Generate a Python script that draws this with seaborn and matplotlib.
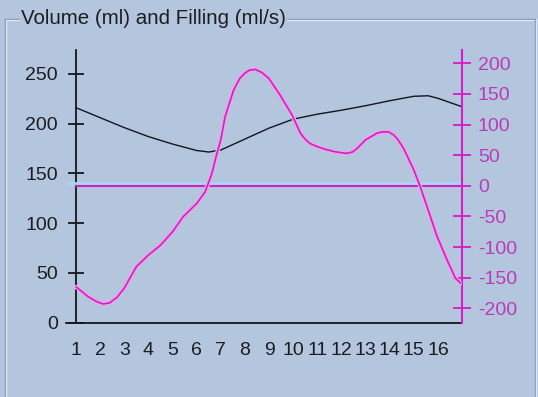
import matplotlib
matplotlib.use('Agg')
import matplotlib.pyplot as plt
import seaborn as sns
from matplotlib.lines import Line2D
from matplotlib.transforms import offset_copy

# ---- data ----
x_ticks = list(range(1, 17))
vol_x = [1, 2, 3, 4, 5, 6, 6.5, 7, 8, 9, 10, 11, 12, 13, 14, 15, 15.6, 16, 17]
volume = [216, 206, 196, 187, 179.5, 173, 171.5, 173.5, 184.5, 195.5, 204.5, 209.5, 213.5, 218, 223, 227.5, 228, 225.5, 217]

fill_x = [1.0, 1.5, 1.85, 2.13, 2.4, 2.7, 3.0, 3.5, 4.0, 4.5, 5.0, 5.45, 6.0, 6.35, 6.63, 6.84, 7.0,
          7.18, 7.53, 7.78, 8.0, 8.2, 8.43, 8.7, 9.0, 9.46, 9.95, 10.3, 10.5, 10.7, 11.0, 11.3,
          11.68, 12.0, 12.23, 12.45, 12.65, 13.0, 13.48, 13.7, 13.96, 14.17, 14.35,
          14.58, 15.0, 15.27, 15.55, 15.97, 16.38, 16.73, 16.95]
filling = [-165, -181, -189, -193, -191, -182, -167, -132, -113, -97, -75, -50, -29, -10, 20, 53, 75,
           113, 156, 175, 184, 189, 190, 185, 175, 148, 116, 86, 76, 69, 64, 60,
           56, 54, 53, 55, 61, 75, 86, 88, 88, 83, 75,
           61, 26, -1.5, -34, -83, -121, -151, -159]

left_ticks = [0, 50, 100, 150, 200, 250]
right_ticks = [-200, -150, -100, -50, 0, 50, 100, 150, 200]

BG = '#b4c6de'
MAG = '#d81cc8'
MAG_TXT = '#b83cb8'
DARK = '#14161c'

sns.set_theme(style='white')
plt.rcParams['font.family'] = ['Liberation Sans', 'DejaVu Sans']

W, H = 538, 397
fig = plt.figure(figsize=(W / 100, H / 100), dpi=100, facecolor=BG)

def fx(px):
    return px / W

def fy(py):
    return 1 - py / H

ax_left, ax_right, ax_top, ax_bot = 66.4, 462, 50, 322.7
ax = fig.add_axes([fx(ax_left), fy(ax_bot), (ax_right - ax_left) / W, (ax_bot - ax_top) / H])
ax.set_facecolor(BG)

sns.lineplot(x=vol_x, y=volume, ax=ax, color=DARK, lw=1.0)
ax.set_xlim(0.6, 17)
ax.set_ylim(0, 274)
ax.set_xticks(x_ticks)
ax.set_xticklabels([str(t) for t in x_ticks])
ax.set_yticks(left_ticks)
ax.spines['left'].set_position(('data', 1))
ax.spines['top'].set_visible(False)
ax.spines['right'].set_visible(False)
for s in ('left', 'bottom'):
    ax.spines[s].set_color(DARK)
    ax.spines[s].set_linewidth(1.3)
ax.tick_params(axis='x', direction='inout', length=12.5, width=1.3, color=DARK,
               labelsize=14, labelcolor='#1c1c22', pad=8)
ax.tick_params(axis='y', direction='inout', length=12, width=1.3, color=DARK,
               labelsize=14, labelcolor='#1c1c22', pad=7)
ax.set_xlabel('')
ax.set_ylabel('')

ax2 = ax.twinx()
ax2.set_ylim(-223.5, 221.7)
# zero line with light cyan line just above it
cyan_tr = offset_copy(ax2.get_yaxis_transform(), fig=fig, x=0, y=3, units='dots')
ax2.plot([0.0, 1.0], [0, 0], transform=cyan_tr, color='#a6d8f2', lw=2.0, zorder=1)
ax2.axhline(0, xmin=0.4 / 16.4, xmax=1, color=MAG, lw=1.5, zorder=2)
sns.lineplot(x=fill_x, y=filling, ax=ax2, color='#e6a8e4', lw=3.0, zorder=3)
sns.lineplot(x=fill_x, y=filling, ax=ax2, color=MAG, lw=1.2, zorder=4)
ax2.set_yticks(right_ticks)
ax2.set_yticklabels([str(t) for t in right_ticks])
for s in ('left', 'top', 'bottom'):
    ax2.spines[s].set_visible(False)
ax2.spines['right'].set_color(MAG)
ax2.spines['right'].set_linewidth(1.5)
ax2.tick_params(axis='y', direction='inout', length=13, width=1.3, color=MAG,
                labelsize=14, labelcolor=MAG_TXT, pad=5)
ax2.set_ylabel('')

# etched group-box frame
dark_c, light_c = '#7e92ac', '#dde7f3'
frame = [
    ([5, 535], [18.5, 18.5], dark_c), ([6, 534], [19.5, 19.5], light_c),
    ([5, 5], [18.5, 400], dark_c), ([6, 6], [19.5, 400], light_c),
    ([535, 535], [18.5, 400], dark_c), ([536, 536], [18.5, 400], light_c),
]
for xs, ys, c in frame:
    fig.add_artist(Line2D([fx(v) for v in xs], [fy(v) for v in ys], color=c, lw=1.0,
                          transform=fig.transFigure))

fig.text(fx(21), fy(18.5), 'Volume (ml) and Filling (ml/s)', ha='left', va='center',
         fontsize=14.8, color='#1c1c22',
         bbox=dict(facecolor=BG, edgecolor='none', pad=1.0))

fig.savefig('out.png', dpi=100, facecolor=BG)
